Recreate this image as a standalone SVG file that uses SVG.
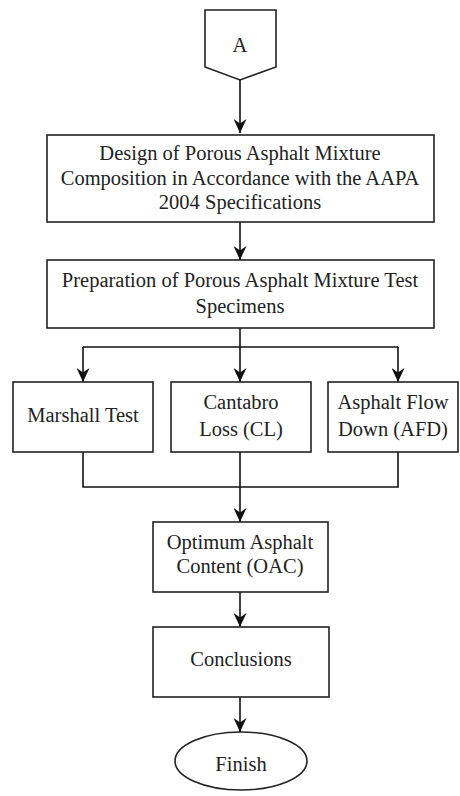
<svg xmlns="http://www.w3.org/2000/svg" width="460" height="796" viewBox="0 0 460 796">
<style>
.box{fill:#fff;stroke:#222;stroke-width:1.6}
.t{font-family:'Liberation Serif','Times New Roman',serif;font-size:20.5px;fill:#222;text-anchor:middle}
.c{fill:none;stroke:#111;stroke-width:1.6}
</style>
<defs>
<marker id="ah" markerWidth="14" markerHeight="13" viewBox="0 0 14 13" refX="14" refY="6.5" orient="auto" markerUnits="userSpaceOnUse">
<path d="M0,0 L14,6.5 L0,13 L4.5,6.5 z" fill="#111"/>
</marker>
</defs>
<rect width="460" height="796" fill="#fff"/>
<g id="connectors">
<path class="c" d="M240,80 V133" marker-end="url(#ah)"/>
<path class="c" d="M240,222 V260" marker-end="url(#ah)"/>
<path class="c" d="M240,328 V382" marker-end="url(#ah)"/>
<path class="c" d="M83,347 H398"/>
<path class="c" d="M83,347 V382" marker-end="url(#ah)"/>
<path class="c" d="M398,347 V382" marker-end="url(#ah)"/>
<path class="c" d="M83,452 V487 H398 V452"/>
<path class="c" d="M240,452 V522" marker-end="url(#ah)"/>
<path class="c" d="M240,592 V627" marker-end="url(#ah)"/>
<path class="c" d="M240,697 V732" marker-end="url(#ah)"/>
</g>
<g id="nodeA">
<path class="box" d="M205,10 H276 V67 L240,80 L205,67 Z"/>
<text class="t" x="240" y="52">A</text>
</g>
<g id="design">
<rect class="box" x="47" y="135" width="387" height="87"/>
<text class="t" x="240" y="160">Design of Porous Asphalt Mixture</text>
<text class="t" x="240" y="185">Composition in Accordance with the AAPA</text>
<text class="t" x="240" y="209">2004 Specifications</text>
</g>
<g id="prep">
<rect class="box" x="47" y="260" width="387" height="68"/>
<text class="t" x="240" y="287">Preparation of Porous Asphalt Mixture Test</text>
<text class="t" x="240" y="313">Specimens</text>
</g>
<g id="marshall">
<rect class="box" x="13" y="382" width="140" height="70"/>
<text class="t" x="83" y="422">Marshall Test</text>
</g>
<g id="cantabro">
<rect class="box" x="171" y="382" width="140" height="70"/>
<text class="t" x="241" y="409">Cantabro</text>
<text class="t" x="241" y="436">Loss (CL)</text>
</g>
<g id="afd">
<rect class="box" x="328" y="382" width="130" height="70"/>
<text class="t" x="393" y="409">Asphalt Flow</text>
<text class="t" x="393" y="436">Down (AFD)</text>
</g>
<g id="oac">
<rect class="box" x="153" y="522" width="175" height="70"/>
<text class="t" x="240" y="549">Optimum Asphalt</text>
<text class="t" x="240" y="573">Content (OAC)</text>
</g>
<g id="conclusions">
<rect class="box" x="153" y="627" width="176" height="70"/>
<text class="t" x="241" y="666">Conclusions</text>
</g>
<g id="finish">
<ellipse class="box" cx="241" cy="761" rx="66" ry="29"/>
<text class="t" x="241" y="771">Finish</text>
</g>
</svg>
